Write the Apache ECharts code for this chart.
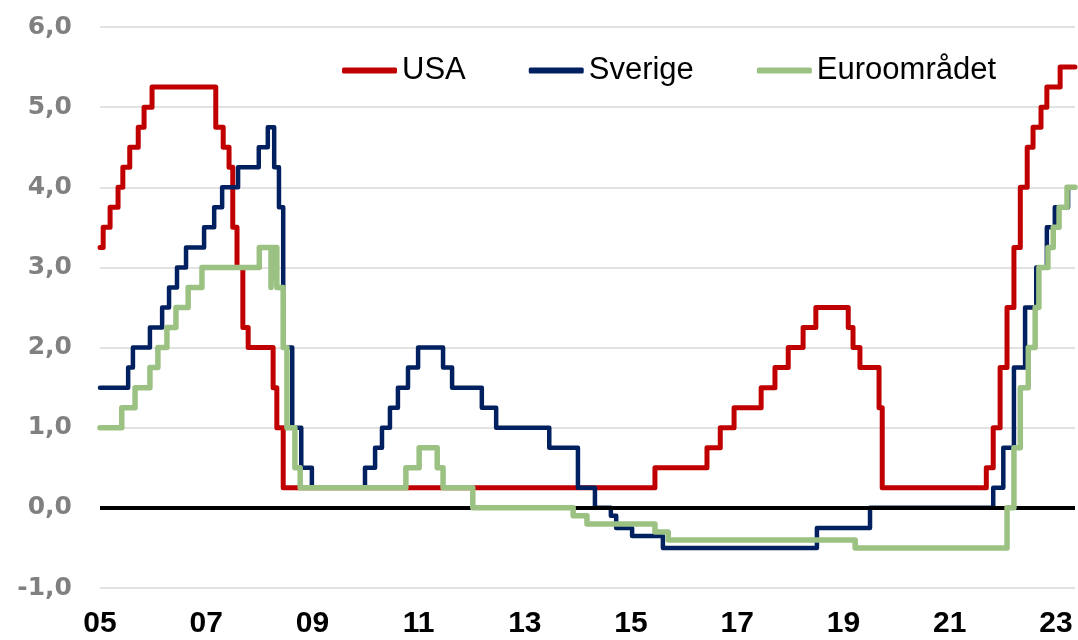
<!DOCTYPE html>
<html>
<head>
<meta charset="utf-8">
<title>Styrräntor</title>
<script src="https://cdn.jsdelivr.net/npm/echarts@6/dist/echarts.min.js"></script>
<style>
	html, body { margin: 0; padding: 0; background: #fff; }
	#chartContent { width: 1078px; height: 640px; }
</style>
</head>
<body>
<div id="chartContent"></div>
<script>
// styrräntor, [år, procent] vid varje ändring (år som decimaltal)
var usaRate = [
	[2005.00, 3.25], [2005.06, 3.5], [2005.19, 3.75], [2005.34, 4.0], [2005.43, 4.25], [2005.56, 4.5],
	[2005.72, 4.75], [2005.83, 5.0], [2005.98, 5.25], [2007.18, 4.75], [2007.32, 4.5], [2007.43, 4.25],
	[2007.50, 3.5], [2007.58, 3.0], [2007.69, 2.25], [2007.79, 2.0], [2008.26, 1.5], [2008.33, 1.0],
	[2008.45, 0.25], [2015.45, 0.5], [2016.43, 0.75], [2016.68, 1.0], [2016.94, 1.25], [2017.45, 1.5],
	[2017.71, 1.75], [2017.96, 2.0], [2018.24, 2.25], [2018.48, 2.5], [2019.09, 2.25], [2019.18, 2.0],
	[2019.31, 1.75], [2019.67, 1.25], [2019.73, 0.25], [2021.69, 0.5], [2021.82, 1.0], [2021.95, 1.75],
	[2022.08, 2.5], [2022.21, 3.25], [2022.33, 4.0], [2022.46, 4.5], [2022.57, 4.75], [2022.72, 5.0],
	[2022.83, 5.25], [2023.08, 5.5], [2023.36, 5.5]
];
var sweRate = [
	[2005.00, 1.5], [2005.53, 1.75], [2005.62, 2.0], [2005.94, 2.25], [2006.17, 2.5], [2006.30, 2.75],
	[2006.45, 3.0], [2006.62, 3.25], [2006.96, 3.5], [2007.15, 3.75], [2007.30, 4.0], [2007.60, 4.25],
	[2007.99, 4.5], [2008.16, 4.75], [2008.28, 4.25], [2008.37, 3.75], [2008.45, 2.0], [2008.62, 1.0],
	[2008.79, 0.5], [2008.99, 0.25], [2009.99, 0.5], [2010.18, 0.75], [2010.31, 1.0], [2010.46, 1.25],
	[2010.61, 1.5], [2010.80, 1.75], [2010.99, 2.0], [2011.46, 1.75], [2011.63, 1.5], [2012.19, 1.25],
	[2012.46, 1.0], [2013.46, 0.75], [2014.00, 0.25], [2014.32, 0.0], [2014.62, -0.1], [2014.72, -0.25],
	[2015.02, -0.35], [2015.60, -0.5], [2018.50, -0.25], [2019.50, 0.0], [2021.82, 0.25], [2022.01, 0.75],
	[2022.21, 1.75], [2022.42, 2.5], [2022.63, 3.0], [2022.83, 3.5], [2022.98, 3.75], [2023.23, 4.0],
	[2023.36, 4.0]
];
var eurRate = [
	[2005.00, 1.0], [2005.41, 1.25], [2005.66, 1.5], [2005.94, 1.75], [2006.09, 2.0], [2006.26, 2.25],
	[2006.43, 2.5], [2006.66, 2.75], [2006.92, 3.0], [2008.00, 3.25], [2008.22, 2.75], [2008.25, 3.25],
	[2008.33, 2.75], [2008.45, 2.0], [2008.52, 1.0], [2008.67, 0.5], [2008.77, 0.25], [2010.76, 0.5],
	[2011.01, 0.75], [2011.35, 0.5], [2011.46, 0.25], [2012.02, 0.0], [2013.91, -0.1], [2014.17, -0.2],
	[2015.45, -0.3], [2015.70, -0.4], [2019.22, -0.5], [2022.08, 0.0], [2022.21, 0.75], [2022.33, 1.5],
	[2022.48, 2.0], [2022.61, 2.5], [2022.68, 3.0], [2022.85, 3.25], [2022.95, 3.5], [2023.06, 3.75],
	[2023.21, 4.0], [2023.36, 4.0]
];
var seriesNames = ['USA', 'Sverige', 'Euroområdet'];
var yearTicks = [2005, 2007, 2009, 2011, 2013, 2015, 2017, 2019, 2021, 2023];

window.onload = function() {
	var byId = function(id) {
		return document.getElementById(id);
	};
	var colors = ['#c00000', '#002060', '#9bc183'];
	var widths = [5, 4.5, 5.5];
	var datas = [usaRate, sweRate, eurRate];

	function stepLine(i) {
		return {
			name: seriesNames[i],
			type: 'line',
			step: 'end',
			data: datas[i],
			showSymbol: false,
			symbol: 'none',
			z: 3 + i,
			color: colors[i],
			lineStyle: { color: colors[i], width: widths[i], cap: 'round', join: 'round' },
			emphasis: { disabled: true }
		};
	}

	var series = [{		// nollinjen, under kurvorna
		type: 'line',
		data: [],
		z: 2,
		markLine: {
			silent: true,
			symbol: ['none', 'none'],
			label: { show: false },
			lineStyle: { color: '#000', width: 4, type: 'solid' },
			data: [{ yAxis: 0 }]
		}
	}];
	for (var i = 0; i < datas.length; i++) {
		series.push(stepLine(i));
	}

	var option = {
		animation: false,
		backgroundColor: '#fff',
		grid: { left: 100, right: 3, top: 27, bottom: 52 },
		legend: {
			data: seriesNames,
			left: 342,
			top: 55,
			padding: 0,
			itemWidth: 55,
			itemHeight: 6,
			itemGap: 63,
			icon: 'roundRect',
			textStyle: { fontFamily: 'Liberation Sans', fontSize: 31, color: '#000' }
		},
		xAxis: {
			type: 'value',
			min: 2005,
			max: 2023.36,
			axisLine: { show: false, onZero: false },
			axisTick: { show: false },
			splitLine: { show: false },
			axisLabel: {
				customValues: yearTicks,
				formatter: function(v) {
					return String(Math.round(v)).slice(2);
				},
				margin: 21,
				fontFamily: 'Liberation Sans',
				fontWeight: 'bold',
				fontSize: 30,
				color: '#000'
			}
		},
		yAxis: {
			type: 'value',
			min: -1,
			max: 6,
			interval: 1,
			axisLine: { show: false },
			axisTick: { show: false },
			splitLine: { lineStyle: { color: '#d9d9d9', width: 1.5 } },
			axisLabel: {
				formatter: function(v) {
					return v.toFixed(1).replace('.', ',');
				},
				margin: 28,
				fontFamily: 'DejaVu Sans',
				fontWeight: 'bold',
				fontSize: 25,
				color: '#808080'
			}
		},
		series: series
	};

	var lineChart = echarts.init(byId('chartContent'));
	lineChart.setOption(option);
};
</script>
</body>
</html>
